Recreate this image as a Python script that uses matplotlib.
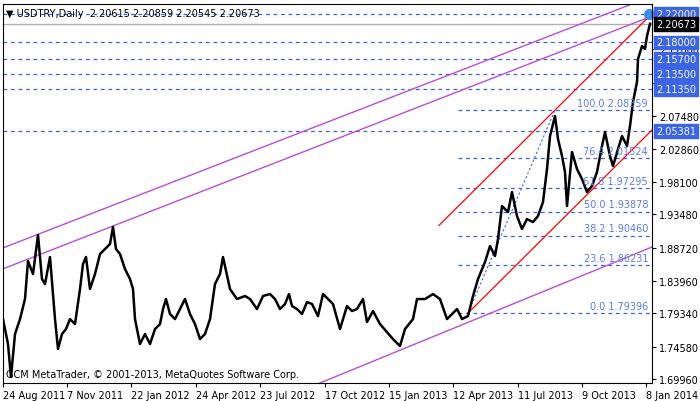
import matplotlib
matplotlib.use("Agg")
import matplotlib.pyplot as plt
import numpy as np

# bar index (one bar per pixel column in the original) and approx close
bars = [3, 8, 11, 15, 20, 25, 28, 33, 38, 42, 45, 50, 55, 58, 62, 66, 70, 75, 80, 83, 86, 90, 95,
        100, 105, 110, 113, 116, 120, 125, 130, 133, 135, 140, 145, 150, 155, 160, 163, 166, 170,
        175, 180, 185, 190, 195, 200, 205, 210, 215, 220, 223, 230, 237, 245, 250, 257, 263, 270,
        275, 280, 285, 289, 292, 297, 302, 307, 312, 318, 323, 328, 333, 340, 347, 352, 357, 363,
        367, 373, 380, 387, 393, 400, 405, 413, 417, 425, 433, 440, 447, 452, 457, 462, 468, 473,
        478, 485, 490, 495, 498, 502, 508, 512, 517, 522, 527, 533, 538, 543, 547, 550, 555, 558,
        562, 565, 567, 572, 577, 582, 587, 592, 597, 602, 605, 610, 613, 618, 622, 627, 630, 633,
        637, 638, 642, 645, 647, 650]
closes = [1.7854, 1.7498, 1.7027, 1.7641, 1.7854, 1.8140, 1.8682, 1.8497, 1.9053, 1.8425, 1.8354,
          1.8739, 1.7854, 1.7427, 1.7641, 1.7712, 1.7854, 1.7783, 1.8283, 1.8639, 1.8739, 1.8283,
          1.8497, 1.8782, 1.8853, 1.8925, 1.9167, 1.8853, 1.8782, 1.8568, 1.8425, 1.8283, 1.7854,
          1.7498, 1.7641, 1.7498, 1.7712, 1.7783, 1.7997, 1.8140, 1.7926, 1.7854, 1.7997, 1.8140,
          1.7926, 1.7783, 1.7569, 1.7641, 1.7854, 1.8354, 1.8497, 1.8739, 1.8283, 1.8140, 1.8183,
          1.8140, 1.7997, 1.8183, 1.8211, 1.8140, 1.7997, 1.8069, 1.8211, 1.8040, 1.7997, 1.7926,
          1.8097, 1.8069, 1.7897, 1.8211, 1.8140, 1.8069, 1.7712, 1.8040, 1.7969, 1.7997, 1.8140,
          1.7812, 1.7969, 1.7783, 1.7669, 1.7569, 1.7469, 1.7712, 1.7854, 1.8140, 1.8140, 1.8211,
          1.8140, 1.7854, 1.7926, 1.7997, 1.7854, 1.7897, 1.8183, 1.8425, 1.8668, 1.8896, 1.8753,
          1.8996, 1.9467, 1.9381, 1.9666, 1.9324, 1.9139, 1.9281, 1.9238, 1.9324, 1.9524, 1.9995,
          2.0465, 2.0751, 2.0423, 2.0180, 1.9952, 1.9467, 2.0237, 1.9995, 1.9852, 1.9666, 1.9752,
          1.9952, 2.0323, 2.0522, 2.0180, 2.0037, 2.0280, 2.0465, 2.0323, 2.0608, 2.0950, 2.1236,
          2.1564, 2.1749, 2.1707, 2.1892, 2.2067]

level_prices = [2.22000, 2.18000, 2.15700, 2.13500, 2.11350, 2.05381]
fib_names = ["0.0", "23.6", "38.2", "50.0", "61.8", "76.4", "100.0"]
fib_prices = [1.79396, 1.86231, 1.90460, 1.93878, 1.97295, 2.01524, 2.08359]
last_price = 2.20673
price_ticks = [1.69960, 1.74580, 1.79340, 1.83960, 1.88720, 1.93480, 1.98100, 2.02860,
               2.07480, 2.12240, 2.17000]
date_ticks = [3, 67, 131, 196, 260, 325, 389, 453, 518, 582, 646]
date_labels = ["24 Aug 2011", "7 Nov 2011", "22 Jan 2012", "24 Apr 2012", "23 Jul 2012",
               "17 Oct 2012", "15 Jan 2013", "12 Apr 2013", "11 Jul 2013", "9 Oct 2013", "8 Jan 2014"]

# trend lines: (x0, p0, x1, p1)
purple_lines = [(0, 1.8853, 637, 2.2377), (0, 1.8554, 652, 2.2177), (310, 1.6884, 652, 1.8882)]
red_lines = [(468, 1.7940, 652, 2.0551), (439, 1.9190, 652, 2.2212)]
fib_trend = (468, 1.79396, 555, 2.08359)

blue = "#3c64e6"
purple = "#b94fd8"

fig = plt.figure(figsize=(7.0, 4.02), dpi=100)
ax = fig.add_axes([3 / 700, 18 / 402, 649 / 700, 379 / 402])
ax.set_xlim(3, 652)
ax.set_ylim(1.6942, 2.2349)

for p in level_prices:
    ax.axhline(p, color=blue, ls=(0, (3, 3)), lw=0.9)
for p in fib_prices:
    ax.plot([458, 652], [p, p], color=blue, ls=(0, (3, 3)), lw=0.9)
ax.axhline(last_price, color="#b0b0b0", lw=1)

for x0, p0, x1, p1 in purple_lines:
    ax.plot([x0, x1], [p0, p1], color=purple, lw=1)
for x0, p0, x1, p1 in red_lines:
    ax.plot([x0, x1], [p0, p1], color="red", lw=0.9)
ax.plot([fib_trend[0], fib_trend[2]], [fib_trend[1], fib_trend[3]], color=blue, ls=(0, (2, 2)), lw=0.8)

ax.plot(bars, closes, color="black", lw=1.8)
ax.plot([649], [2.2200], "o", color="#3c8ee6", ms=7, clip_on=False)

for n, p in zip(fib_names, fib_prices):
    ax.text(648, p + 0.003, f"{n} {p:.5f}", ha="right", va="bottom", fontsize=7, color="#5a7de6")

ax.yaxis.tick_right()
ax.set_yticks(price_ticks)
ax.set_yticklabels([f"{t:.5f}" for t in price_ticks], fontsize=7)
ax.set_xticks(date_ticks)
ax.set_xticklabels(date_labels, fontsize=7, ha="left")
ax.tick_params(length=3, width=0.8, pad=2)

for p in level_prices:
    ax.text(1.006, p, f"{p:.5f}", transform=ax.get_yaxis_transform(), va="center", ha="left",
            fontsize=7, color="white", zorder=10,
            bbox=dict(boxstyle="square,pad=0.2", fc=blue, ec=blue))
ax.text(1.006, last_price, f"{last_price:.5f}", transform=ax.get_yaxis_transform(), va="center",
        ha="left", fontsize=7, color="white", zorder=10,
        bbox=dict(boxstyle="square,pad=0.2", fc="black", ec="black"))

ax.text(0.005, 0.99, "▼ USDTRY,Daily  2.20615 2.20859 2.20545 2.20673", transform=ax.transAxes,
        fontsize=7, va="top", ha="left")
ax.text(0.005, 0.01, "GCM MetaTrader, © 2001-2013, MetaQuotes Software Corp.", transform=ax.transAxes,
        fontsize=7, va="bottom", ha="left")

fig.savefig("out.png", dpi=100)
